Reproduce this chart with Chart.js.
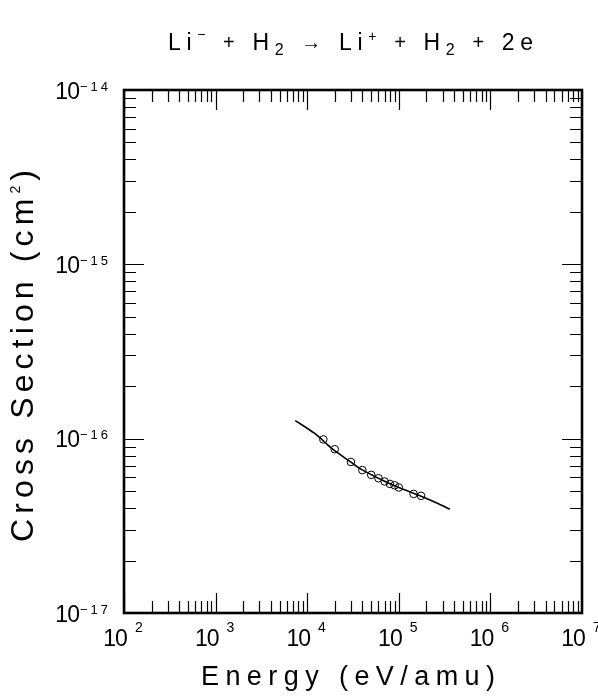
<!DOCTYPE html>
<html>
<head>
<meta charset="utf-8">
<style>
html,body{margin:0;padding:0;background:#ffffff;}
canvas{display:block;}
</style>
</head>
<body>
<canvas id="c" width="598" height="696"></canvas>
<script src="https://cdn.jsdelivr.net/npm/chart.js@4/dist/chart.umd.min.js"></script>
<script>
// ---- data ----
const xTickExponents = [2, 3, 4, 5, 6, 7];
const yTickExponents = [-17, -16, -15, -14];

const fitEnergy = [7.4e3, 1.2e4, 1.44e4, 1.9e4, 2.95e4, 3.9e4, 7.0e4, 1.0e5, 1.7e5, 2.6e5, 3.6e5];
const fitCross  = [1.27e-16, 1.075e-16, 9.9e-17, 8.7e-17, 7.38e-17, 6.67e-17, 5.70e-17, 5.25e-17, 4.71e-17, 4.28e-17, 3.94e-17];

const dataEnergy = [1.5e4, 2e4, 3e4, 4e4, 5e4, 6e4, 7e4, 8e4, 9e4, 1e5, 1.45e5, 1.75e5];
const dataCross  = [9.9e-17, 8.7e-17, 7.35e-17, 6.6e-17, 6.2e-17, 5.93e-17, 5.68e-17, 5.5e-17, 5.4e-17, 5.25e-17, 4.82e-17, 4.7e-17];

const titleRuns = [
  {t:'Li', s:23}, {t:'\u2212', s:14, dy:-11}, {t:' ', s:23}, {t:'+', s:20, dy:-1},
  {t:' H', s:23}, {t:'2', s:16, dy:5}, {t:' ', s:23}, {t:'\u2192', s:20, dy:-1},
  {t:' Li', s:23}, {t:'+', s:14, dy:-9}, {t:' ', s:23}, {t:'+', s:20, dy:-1},
  {t:' H', s:23}, {t:'2', s:16, dy:5}, {t:' ', s:23}, {t:'+', s:20, dy:-1},
  {t:' 2e', s:23}
];
const xTitleRuns = [{t:'Energy (eV/amu)', s:27}];
const yTitleRuns = [{t:'Cross Section (cm', s:32}, {t:'2', s:14, dy:-13}, {t:')', s:32}];

// ---- helpers ----
const FAMILY = '"Liberation Sans", "DejaVu Sans", sans-serif';

function layoutRuns(ctx, runs) {
  const items = [];
  for (const r of runs) {
    for (const ch of r.t) {
      ctx.font = r.s + 'px ' + FAMILY;
      items.push({ch: ch, dy: r.dy || 0, w: ctx.measureText(ch).width, font: ctx.font});
    }
  }
  return items;
}
function drawFitted(ctx, runs, x, y, target) {
  const items = layoutRuns(ctx, runs);
  const sum = items.reduce((a, i) => a + i.w, 0);
  const sp = items.length > 1 ? (target - sum) / (items.length - 1) : 0;
  let cx = x;
  for (const it of items) {
    ctx.font = it.font;
    ctx.fillText(it.ch, cx, y + it.dy);
    cx += it.w + sp;
  }
}
function spacedWidth(ctx, str, size, sp) {
  ctx.font = size + 'px ' + FAMILY;
  let w = 0;
  for (let i = 0; i < str.length; i++) { w += ctx.measureText(str[i]).width; if (i < str.length - 1) w += sp; }
  return w;
}
function drawSpaced(ctx, str, size, sp, x, y) {
  ctx.font = size + 'px ' + FAMILY;
  let cx = x;
  for (let i = 0; i < str.length; i++) {
    ctx.fillText(str[i], cx, y);
    cx += ctx.measureText(str[i]).width + sp;
  }
}
function powerLabel(ctx, e, cfg, anchorX, baseY, align) {
  const expStr = e < 0 ? '\u2212' + Math.abs(e) : String(e);
  const bw = spacedWidth(ctx, '10', 23, -1);
  const ew = spacedWidth(ctx, expStr, cfg.expSize, cfg.expSp);
  const total = bw + cfg.gap + ew;
  const left = align === 'right' ? anchorX - total : anchorX - total / 2;
  drawSpaced(ctx, '10', 23, -1, left, baseY);
  drawSpaced(ctx, expStr, cfg.expSize, cfg.expSp, left + bw + cfg.gap, baseY + cfg.expDy);
}

const MAJOR = 20, MINOR = 12;

const overlay = {
  id: 'overlay',
  beforeDatasetsDraw(chart) {
    const ctx = chart.ctx;
    const xs = chart.scales.x, ys = chart.scales.y;
    const a = chart.chartArea;
    ctx.save();
    ctx.strokeStyle = '#000';
    ctx.lineWidth = 1.2;
    ctx.beginPath();
    for (let e = xTickExponents[0]; e < xTickExponents[xTickExponents.length - 1]; e++) {
      for (let m = 1; m < 10; m++) {
        const px = Math.round(xs.getPixelForValue(m * Math.pow(10, e))) + 0.5;
        const len = m === 1 ? MAJOR : MINOR;
        ctx.moveTo(px, a.bottom); ctx.lineTo(px, a.bottom - len);
        ctx.moveTo(px, a.top); ctx.lineTo(px, a.top + len);
      }
    }
    for (let e = yTickExponents[0]; e < yTickExponents[yTickExponents.length - 1]; e++) {
      for (let m = 1; m < 10; m++) {
        const py = Math.round(ys.getPixelForValue(m * Math.pow(10, e))) + 0.5;
        const len = m === 1 ? MAJOR : MINOR;
        ctx.moveTo(a.left, py); ctx.lineTo(a.left + len, py);
        ctx.moveTo(a.right, py); ctx.lineTo(a.right - len, py);
      }
    }
    ctx.stroke();
    ctx.lineWidth = 2.6;
    ctx.strokeRect(a.left, a.top, a.right - a.left, a.bottom - a.top);
    ctx.restore();
  },
  afterDraw(chart) {
    const ctx = chart.ctx;
    const xs = chart.scales.x, ys = chart.scales.y;
    const a = chart.chartArea;
    ctx.save();
    ctx.fillStyle = '#000';
    ctx.textAlign = 'left';
    ctx.textBaseline = 'alphabetic';
    // tick labels
    for (const e of xTickExponents) {
      const px = xs.getPixelForValue(Math.pow(10, e));
      powerLabel(ctx, e, {expSize: 14, expSp: 2, gap: 7, expDy: -14}, px - 1, a.bottom + 33, 'center');
    }
    for (const e of yTickExponents) {
      const py = ys.getPixelForValue(Math.pow(10, e));
      powerLabel(ctx, e, {expSize: 13, expSp: 3, gap: 0, expDy: -8}, a.left - 16, py + 8.5, 'right');
    }
    // titles
    drawFitted(ctx, titleRuns, 168, 50, 365);
    drawFitted(ctx, xTitleRuns, 201, 685, 294);
    ctx.translate(33, 542);
    ctx.rotate(-Math.PI / 2);
    drawFitted(ctx, yTitleRuns, 0, 0, 372);
    ctx.restore();
  }
};

new Chart(document.getElementById('c').getContext('2d'), {
  type: 'scatter',
  data: {
    datasets: [
      {
        label: 'Fit',
        data: fitEnergy.map((e, i) => ({x: e, y: fitCross[i]})),
        showLine: true,
        borderColor: '#000',
        borderWidth: 1.6,
        pointRadius: 0,
        pointHoverRadius: 0,
        tension: 0.3,
        fill: false
      },
      {
        label: 'Data',
        data: dataEnergy.map((e, i) => ({x: e, y: dataCross[i]})),
        showLine: false,
        pointStyle: 'circle',
        pointRadius: 3.8,
        borderColor: '#000',
        backgroundColor: 'rgba(0,0,0,0)',
        borderWidth: 1
      }
    ]
  },
  options: {
    responsive: false,
    animation: false,
    devicePixelRatio: 1,
    events: [],
    layout: {padding: {left: 124, right: 16, top: 90, bottom: 83}},
    plugins: {legend: {display: false}, tooltip: {enabled: false}, title: {display: false}},
    scales: {
      x: {type: 'logarithmic', min: 1e2, max: 1e7, display: false},
      y: {type: 'logarithmic', min: 1e-17, max: 1e-14, display: false}
    }
  },
  plugins: [overlay]
});
</script>
</body>
</html>
